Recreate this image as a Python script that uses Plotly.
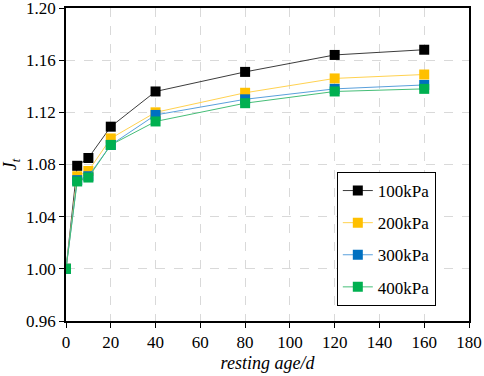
import plotly.graph_objects as go

days = [0, 5, 10, 20, 40, 80, 120, 160]
jt_100 = [1.000, 1.079, 1.085, 1.109, 1.136, 1.151, 1.164, 1.168]
jt_200 = [1.000, 1.071, 1.075, 1.100, 1.120, 1.135, 1.146, 1.149]
jt_300 = [1.000, 1.068, 1.071, 1.095, 1.118, 1.130, 1.138, 1.141]
jt_400 = [1.000, 1.067, 1.070, 1.095, 1.113, 1.127, 1.136, 1.138]

series = [
    ("100kPa", jt_100, "#000000", "rgba(60,60,60,1)"),
    ("200kPa", jt_200, "#FFC000", "rgba(255,210,80,1)"),
    ("300kPa", jt_300, "#0070C0", "rgba(90,160,220,1)"),
    ("400kPa", jt_400, "#00B050", "rgba(70,190,120,1)"),
]

font = "Liberation Serif"

fig = go.Figure()
for name, vals, mc, lc in series:
    fig.add_trace(go.Scatter(
        x=days, y=vals, name=name, mode="lines+markers",
        legendgroup=name,
        line=dict(color=lc, width=1),
        marker=dict(symbol="square", size=10, color=mc),
    ))

fig.update_layout(
    width=484, height=376,
    margin=dict(l=66, r=15, t=8, b=55, autoexpand=False),
    paper_bgcolor="white", plot_bgcolor="white",
    font=dict(family=font, size=17, color="black"),
    showlegend=True,
    legend=dict(
        x=0.672, y=0.476, xanchor="left", yanchor="top",
        bordercolor="black", borderwidth=1, bgcolor="white",
        font=dict(family=font, size=17),
        tracegroupgap=7,
    ),
)
fig.update_xaxes(
    range=[0, 180], tickvals=list(range(0, 181, 20)),
    showline=True, linecolor="black", linewidth=1.5, mirror=True,
    ticks="outside", ticklen=5, tickcolor="black", ticklabeloverflow="allow",
    tickfont=dict(family=font, size=17),
    showgrid=True, gridcolor="#d9d9d9", griddash="dash", gridwidth=1,
    zeroline=False, automargin=False,
    title=dict(text="<i>resting age/d</i>", standoff=5, font=dict(family=font, size=18)),
)
fig.update_yaxes(
    range=[0.96, 1.20], tickvals=[0.96, 1.00, 1.04, 1.08, 1.12, 1.16, 1.20],
    tickformat=".2f",
    showline=True, linecolor="black", linewidth=1.5, mirror=True,
    ticks="outside", ticklen=5, tickcolor="black", ticklabeloverflow="allow",
    tickfont=dict(family=font, size=17),
    showgrid=True, gridcolor="#d9d9d9", griddash="dash", gridwidth=1,
    zeroline=False, automargin=False,
    title=dict(text="<i>J<sub>t</sub></i>", standoff=6, font=dict(family=font, size=18)),
)

fig.write_html("out.html", config={"displayModeBar": False},
               post_script="document.body.style.margin='0px';document.body.style.padding='0px';")
